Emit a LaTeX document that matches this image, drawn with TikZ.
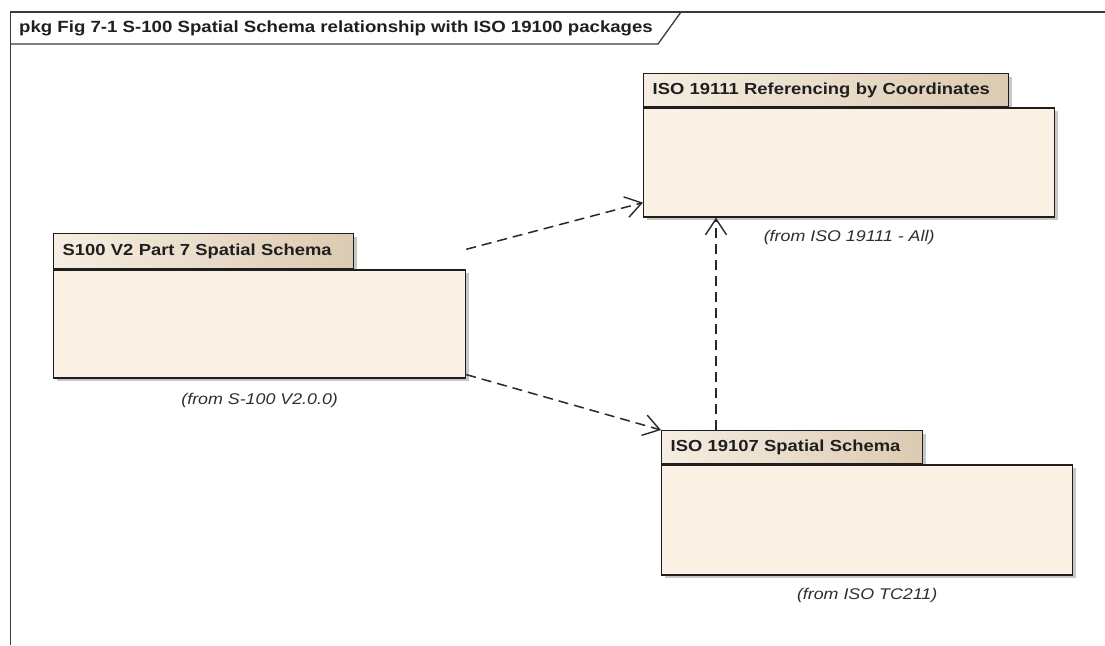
\documentclass[tikz,border=0pt]{standalone}
\usepackage{fontspec}
\setmainfont{Liberation Sans}
\newfontfamily\tabfont{Liberation Sans Bold}[FakeStretch=1.15]
\newfontfamily\fromfont{Liberation Sans Italic}[FakeStretch=1.15]
\usetikzlibrary{arrows.meta,calc,shadows}
\definecolor{bodyfill}{HTML}{FBF0E4}
\definecolor{tabL}{HTML}{F6EEE2}
\definecolor{tabM}{HTML}{F0E4D3}
\definecolor{tabR}{HTML}{DCCAB2}
\definecolor{edge}{HTML}{1E1E1E}
\definecolor{framec}{HTML}{3A3A3A}
\begin{document}
\begin{tikzpicture}[x=1pt,y=-1pt,
  pkgshadow/.style={drop shadow={shadow xshift=3pt,shadow yshift=-3pt,fill=black,opacity=0.22}},
  pkgtab/.style={draw=edge, line width=1.3pt, left color=tabL, middle color=tabM, right color=tabR,
    anchor=north west, inner xsep=9pt, inner ysep=0pt, align=left,
    font=\tabfont\fontsize{16}{19}\selectfont, text=black!88, pkgshadow},
  pkgbody/.style={draw=edge, line width=1.3pt, fill=bodyfill, anchor=north west,
    inner sep=0pt, pkgshadow},
  fromlbl/.style={font=\fromfont\fontsize{15.5}{18}\selectfont, text=black!82, inner sep=0pt},
  titlelbl/.style={font=\tabfont\fontsize{16.2}{19}\selectfont, text=black!88, inner sep=0pt, anchor=west},
  frameline/.style={draw=framec, line width=1.3pt},
  dep/.style={draw=edge!95, line width=1.5pt, dash pattern=on 10pt off 6pt,
    -{Straight Barb[length=16pt,width=21pt,line width=1.4pt]}}
]
\useasboundingbox (0,0) rectangle (1105,645);
\fill[white] (0,0) rectangle (1105,645);

% diagram frame
\draw[frameline] (10.5,645) -- (10.5,12) -- (1105,12);
\draw[frameline] (10.5,44) -- (658,44) -- (681,12);
\node[titlelbl] (title) at (19,28.5) {pkg Fig 7-1 S-100 Spatial Schema relationship with ISO 19100 packages};

% S100 package
\node[pkgtab, text width=282pt, minimum height=35pt] (s100tab) at (53,233) {S100 V2 Part 7 Spatial Schema};
\node[pkgbody, minimum width=412pt, minimum height=108pt] (s100) at (s100tab.south west) {};
\node[fromlbl] (s100from) at ([yshift=-22pt]s100.south) {(from S-100 V2.0.0)};

% ISO 19111 package
\node[pkgtab, text width=347pt, minimum height=33pt] (iso11tab) at (643,73) {ISO 19111 Referencing by Coordinates};
\node[pkgbody, minimum width=411pt, minimum height=109pt] (iso11) at (iso11tab.south west) {};
\node[fromlbl] (iso11from) at ([yshift=-20pt]iso11.south) {(from ISO 19111 - All)};

% ISO 19107 package
\node[pkgtab, text width=243pt, minimum height=33pt] (iso07tab) at (661,430) {ISO 19107 Spatial Schema};
\node[pkgbody, minimum width=411pt, minimum height=110pt] (iso07) at (iso07tab.south west) {};
\node[fromlbl] (iso07from) at ([yshift=-20pt]iso07.south) {(from ISO TC211)};

% dependencies
\coordinate (a1s) at ([yshift=20pt]s100.north east);
\coordinate (a1e) at ([yshift=15pt]iso11.south west);
\draw[dep] (a1s) -- (a1e);
\coordinate (a2s) at ([yshift=4pt]s100.south east);
\draw[dep] (a2s) -- (iso07tab.north west);
\coordinate (a3s) at ([xshift=55pt]iso07tab.north west);
\coordinate (a3e) at ([xshift=73pt]iso11.south west);
\draw[dep] (a3s) -- (a3e);
\end{tikzpicture}
\end{document}
